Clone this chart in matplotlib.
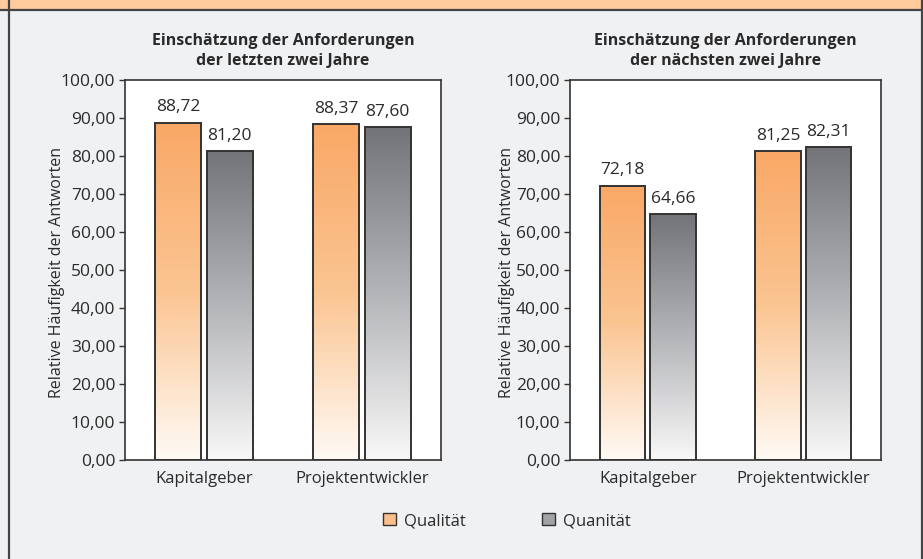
import matplotlib.pyplot as plt
import matplotlib.patches as mpatches
from matplotlib.colors import LinearSegmentedColormap
import numpy as np

# Daten
categories = ['Kapitalgeber', 'Projektentwickler']
titles = ['Einschätzung der Anforderungen\nder letzten zwei Jahre',
          'Einschätzung der Anforderungen\nder nächsten zwei Jahre']
qualitaet = [[88.72, 88.37], [72.18, 81.25]]
quanitaet = [[81.20, 87.60], [64.66, 82.31]]
series_names = ['Qualität', 'Quanität']
yticks = np.arange(0, 101, 10)

plt.rcParams['font.family'] = ['Open Sans', 'DejaVu Sans']

BG = '#f0f1f3'
EDGE = '#333333'
TXT = '#2a2a2a'
cmap_orange = LinearSegmentedColormap.from_list('o', ['#fffaf5', '#fbc592', '#f9a866'])
cmap_gray = LinearSegmentedColormap.from_list('g', ['#f8f8f8', '#b4b5b8', '#737478'])

fig = plt.figure(figsize=(9.23, 5.59), dpi=100)
fig.patch.set_facecolor(BG)

# orange Kopfleiste und Rahmen
fig.patches.append(mpatches.Rectangle((0, 1 - 9.5 / 559), 1, 9.5 / 559, transform=fig.transFigure,
                                      facecolor='#ffca9c', edgecolor='none', zorder=0))
fig.add_artist(plt.Line2D([0, 1], [1 - 10 / 559] * 2, transform=fig.transFigure, color='#444444', lw=1.6))
fig.add_artist(plt.Line2D([8.5 / 923] * 2, [0, 1], transform=fig.transFigure, color='#444444', lw=1.6))
fig.add_artist(plt.Line2D([921.5 / 923] * 2, [0, 1], transform=fig.transFigure, color='#444444', lw=1.6))

positions = [[125 / 923, 99 / 559, 316 / 923, 380 / 559],
             [570 / 923, 99 / 559, 311 / 923, 380 / 559]]
ylabel_x = [57, 507]

x = np.arange(len(categories))
w = 0.294
off = 0.163
grad = np.linspace(0, 1, 256).reshape(-1, 1)


def gradient_bars(ax, bars, cmap):
    for b in bars:
        x0, w0, h = b.get_x(), b.get_width(), b.get_height()
        # gradient: hell unten, dunkel oben
        ax.imshow(grad, cmap=cmap, aspect='auto', origin='lower',
                  extent=(x0, x0 + w0, 0, h), zorder=2, interpolation='bicubic')
        b.set_facecolor('none')
        b.set_zorder(3)


for i in range(2):
    ax = fig.add_axes(positions[i])
    ax.set_facecolor('white')
    b1 = ax.bar(x - off, qualitaet[i], w, edgecolor=EDGE, linewidth=1.4)
    b2 = ax.bar(x + off, quanitaet[i], w, edgecolor=EDGE, linewidth=1.4)
    gradient_bars(ax, b1, cmap_orange)
    gradient_bars(ax, b2, cmap_gray)
    for bars in (b1, b2):
        for b in bars:
            ax.text(b.get_x() + b.get_width() / 2, b.get_height() + 2.0,
                    f'{b.get_height():.2f}'.replace('.', ','),
                    ha='center', va='bottom', fontsize=12.5, color=TXT)
    ax.set_xlim(-0.5, 1.5)
    ax.set_ylim(0, 100)
    ax.set_yticks(yticks)
    ax.set_yticklabels([f'{v:.2f}'.replace('.', ',') for v in yticks], fontsize=12.5, color=TXT)
    ax.set_xticks(x)
    ax.set_xticklabels(categories, fontsize=12, color=TXT)
    ax.tick_params(axis='x', length=0, pad=8)
    ax.tick_params(axis='y', length=4, width=1, color=EDGE, pad=3)
    for s in ax.spines.values():
        s.set_color(EDGE)
        s.set_linewidth(1.2)
    ax.set_title(titles[i], fontsize=11.5, fontweight='bold', color=TXT, pad=11, linespacing=1.3)
    fig.text(ylabel_x[i] / 923, 1 - 272 / 559, 'Relative Häufigkeit der Antworten',
             rotation=90, ha='center', va='center', fontsize=11.5, color=TXT)

# Legende
handles = [mpatches.Patch(facecolor='#fbc089', edgecolor=EDGE, linewidth=1),
           mpatches.Patch(facecolor='#a2a3a7', edgecolor=EDGE, linewidth=1)]
leg = fig.legend(handles, series_names, loc='center', bbox_to_anchor=(507 / 923, 1 - 521 / 559),
                 ncol=2, frameon=False, fontsize=12, handlelength=0.75, handleheight=0.75,
                 handletextpad=0.5, columnspacing=4.6)
for t in leg.get_texts():
    t.set_color(TXT)

fig.savefig('out.png', dpi=100, facecolor=fig.get_facecolor())
